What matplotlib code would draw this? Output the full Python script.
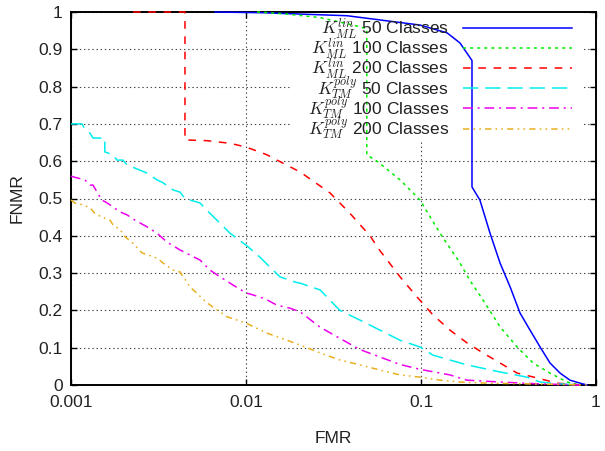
import matplotlib
matplotlib.use("Agg")
import matplotlib.pyplot as plt
from matplotlib.ticker import FixedLocator, NullLocator, FixedFormatter
from matplotlib.patches import Rectangle
from matplotlib.lines import Line2D

plt.rcParams['font.family'] = ['Liberation Sans', 'DejaVu Sans']
plt.rcParams['mathtext.fontset'] = 'cm'
plt.rcParams['lines.scale_dashes'] = False

# ---- data (FMR, FNMR) ----
ml50_fmr = [0.00665, 0.0125, 0.0378, 0.0987, 0.141, 0.167, 0.1956, 0.1956, 0.217, 0.248,
            0.283, 0.323, 0.368, 0.42, 0.479, 0.546, 0.623, 0.71, 0.81, 0.89]
ml50_fnmr = [1.0, 0.998, 0.99, 0.965, 0.944, 0.917, 0.87, 0.531, 0.496, 0.407,
             0.327, 0.263, 0.193, 0.147, 0.102, 0.059, 0.032, 0.013, 0.005, 0.0]

ml100_fmr = [0.01156, 0.0167, 0.0265, 0.0409, 0.049, 0.049, 0.0561, 0.0759, 0.0987, 0.1284,
             0.167, 0.1905, 0.226, 0.283, 0.354, 0.437, 0.546, 0.683, 0.81]
ml100_fnmr = [1.0, 0.995, 0.985, 0.965, 0.955, 0.617, 0.60, 0.55, 0.496, 0.407,
              0.327, 0.28, 0.228, 0.156, 0.102, 0.059, 0.032, 0.008, 0.0]

ml200_fmr = [0.00226, 0.00448, 0.00448, 0.006, 0.0081, 0.01, 0.0132, 0.01503, 0.0204, 0.0302,
             0.0393, 0.0511, 0.0583, 0.0759, 0.0949, 0.117, 0.1465, 0.183, 0.226, 0.283,
             0.354, 0.46, 0.599, 0.81]
ml200_fnmr = [1.0, 1.0, 0.657, 0.655, 0.648, 0.638, 0.617, 0.603, 0.571, 0.515,
              0.46, 0.40, 0.36, 0.29, 0.236, 0.188, 0.147, 0.113, 0.086, 0.059,
              0.032, 0.019, 0.005, 0.0]

tm50_fmr = [0.001, 0.00103, 0.001156, 0.001187, 0.001284, 0.001336, 0.001445, 0.00156, 0.00156,
            0.00174, 0.00183, 0.00198, 0.00209, 0.00248, 0.00272, 0.0031, 0.00336, 0.00383,
            0.0042, 0.00448, 0.00546, 0.00623, 0.0071, 0.0081, 0.01, 0.012, 0.0137, 0.01564,
            0.01905, 0.0204, 0.0265, 0.0344, 0.0448, 0.0583, 0.0759, 0.0987, 0.117, 0.183,
            0.283, 0.403, 0.479, 0.623, 0.81]
tm50_fnmr = [0.70, 0.70, 0.70, 0.69, 0.675, 0.662, 0.662, 0.662, 0.625,
             0.617, 0.603, 0.603, 0.59, 0.576, 0.568, 0.55, 0.542, 0.523,
             0.517, 0.50, 0.488, 0.46, 0.434, 0.407, 0.375, 0.343, 0.316, 0.29,
             0.276, 0.273, 0.255, 0.20, 0.174, 0.147, 0.12, 0.102, 0.08, 0.054,
             0.035, 0.021, 0.008, 0.003, 0.0]

tm100_fmr = [0.001, 0.00103, 0.0012, 0.001284, 0.001336, 0.00141, 0.0015, 0.00161, 0.00174,
             0.00191, 0.00209, 0.00232, 0.00272, 0.0031, 0.00354, 0.00403, 0.0042, 0.00546,
             0.00623, 0.0071, 0.00843, 0.01, 0.012, 0.0132, 0.01503, 0.01784, 0.0204, 0.0265,
             0.0344, 0.0448, 0.0583, 0.0759, 0.0987, 0.1465, 0.183, 0.283, 0.479, 0.81]
tm100_fnmr = [0.56, 0.558, 0.55, 0.536, 0.536, 0.517, 0.496, 0.488, 0.477,
              0.464, 0.456, 0.442, 0.424, 0.407, 0.383, 0.367, 0.362, 0.335,
              0.308, 0.29, 0.268, 0.247, 0.236, 0.228, 0.214, 0.206, 0.196, 0.155,
              0.125, 0.095, 0.075, 0.055, 0.042, 0.027, 0.013, 0.008, 0.003, 0.0]

tm200_fmr = [0.001, 0.00105, 0.00117, 0.001284, 0.00137, 0.0015, 0.00167, 0.00174, 0.00191,
             0.00204, 0.00226, 0.00255, 0.00275, 0.0031, 0.00336, 0.00383, 0.0042, 0.00479,
             0.00599, 0.00779, 0.01, 0.0132, 0.01715, 0.0204, 0.0265, 0.0344, 0.0448, 0.0583,
             0.0759, 0.0987, 0.1284, 0.167, 0.238, 0.42, 0.924]
tm200_fnmr = [0.496, 0.488, 0.483, 0.475, 0.46, 0.45, 0.442, 0.429, 0.416,
              0.397, 0.38, 0.354, 0.349, 0.34, 0.327, 0.308, 0.303, 0.263,
              0.22, 0.183, 0.166, 0.139, 0.12, 0.107, 0.086, 0.067, 0.054, 0.04,
              0.027, 0.021, 0.013, 0.008, 0.005, 0.003, 0.0]

labels = [r"$K_{ML}^{lin}$ 50 Classes", r"$K_{ML}^{lin}$ 100 Classes", r"$K_{ML}^{lin}$ 200 Classes",
          r"$K_{TM}^{poly}$ 50 Classes", r"$K_{TM}^{poly}$ 100 Classes", r"$K_{TM}^{poly}$ 200 Classes"]

x_ticks = [0.001, 0.01, 0.1, 1]
x_tick_labels = ["0.001", "0.01", "0.1", "1"]
y_ticks = [0, 0.1, 0.2, 0.3, 0.4, 0.5, 0.6, 0.7, 0.8, 0.9, 1]
y_tick_labels = ["0", "0.1", "0.2", "0.3", "0.4", "0.5", "0.6", "0.7", "0.8", "0.9", "1"]

series = [(ml50_fmr, ml50_fnmr), (ml100_fmr, ml100_fnmr), (ml200_fmr, ml200_fnmr),
          (tm50_fmr, tm50_fnmr), (tm100_fmr, tm100_fnmr), (tm200_fmr, tm200_fnmr)]
colors = ['#0000ff', '#00ee00', '#ff0000', '#00eeee', '#ee00ee', '#e8b020']
styles = ['-', (0, (2.2, 2.9)), (0, (5.5, 5.5)), (0, (11, 5)), (0, (7, 3.5, 1.5, 3.5)),
          (0, (4.5, 3, 1.2, 3, 1.2, 3))]

W, H = 605, 451
AX_L, AX_R, AX_T, AX_B = 71, 596, 12, 385
fig = plt.figure(figsize=(W / 100, H / 100), dpi=100)
ax = fig.add_axes([AX_L / W, (H - AX_B) / H, (AX_R - AX_L) / W, (AX_B - AX_T) / H])

for (xs, ys), c, ls in zip(series, colors, styles):
    ax.plot(xs, ys, color=c, linestyle=ls, linewidth=1.1, zorder=3, clip_on=False)

ax.set_xscale('log')
ax.set_xlim(0.001, 1)
ax.set_ylim(0, 1)
ax.xaxis.set_major_locator(FixedLocator(x_ticks))
ax.xaxis.set_major_formatter(FixedFormatter(x_tick_labels))
ax.xaxis.set_minor_locator(NullLocator())
ax.yaxis.set_major_locator(FixedLocator(y_ticks))
ax.yaxis.set_major_formatter(FixedFormatter(y_tick_labels))

txtc = '#222222'
ax.tick_params(axis='both', which='major', direction='in', length=4, width=1,
               top=True, right=True, labelsize=12.5, labelcolor=txtc)
ax.tick_params(axis='x', pad=7)
ax.tick_params(axis='y', pad=6)
for s in ax.spines.values():
    s.set_linewidth(1.4)
    s.set_color('black')
    s.set_zorder(2.5)

ax.set_axisbelow(True)
ax.grid(True, which='major', color='#444444', linestyle=(0, (1, 2)), linewidth=0.8)

ax.set_xlabel("FMR", fontsize=12.5, color=txtc, labelpad=15)
ax.set_ylabel("FNMR", fontsize=12.5, color=txtc, labelpad=10)

# ---- gnuplot-style key: opaque box, right-aligned text, sample on the right ----
def fx(px):
    return (px - AX_L) / (AX_R - AX_L)

def fy(py):
    return (AX_B - py) / (AX_B - AX_T)

ax.add_patch(Rectangle((fx(290), fy(140)), fx(583) - fx(290), fy(AX_T + 1) - fy(140),
                       transform=ax.transAxes, facecolor='white', edgecolor='none',
                       zorder=2))
row0, drow = 28, 20.1
for i, (lab, c, ls) in enumerate(zip(labels, colors, styles)):
    yc = row0 + i * drow
    ax.add_line(Line2D([fx(463), fx(572)], [fy(yc), fy(yc)], transform=ax.transAxes,
                       color=c, linestyle=ls, linewidth=1.1, zorder=3))
    ax.text(fx(449), fy(yc + 6.2), lab, transform=ax.transAxes, ha='right',
            va='baseline', fontsize=12.5, color=txtc, zorder=3)

fig.savefig("out.png", dpi=100)
